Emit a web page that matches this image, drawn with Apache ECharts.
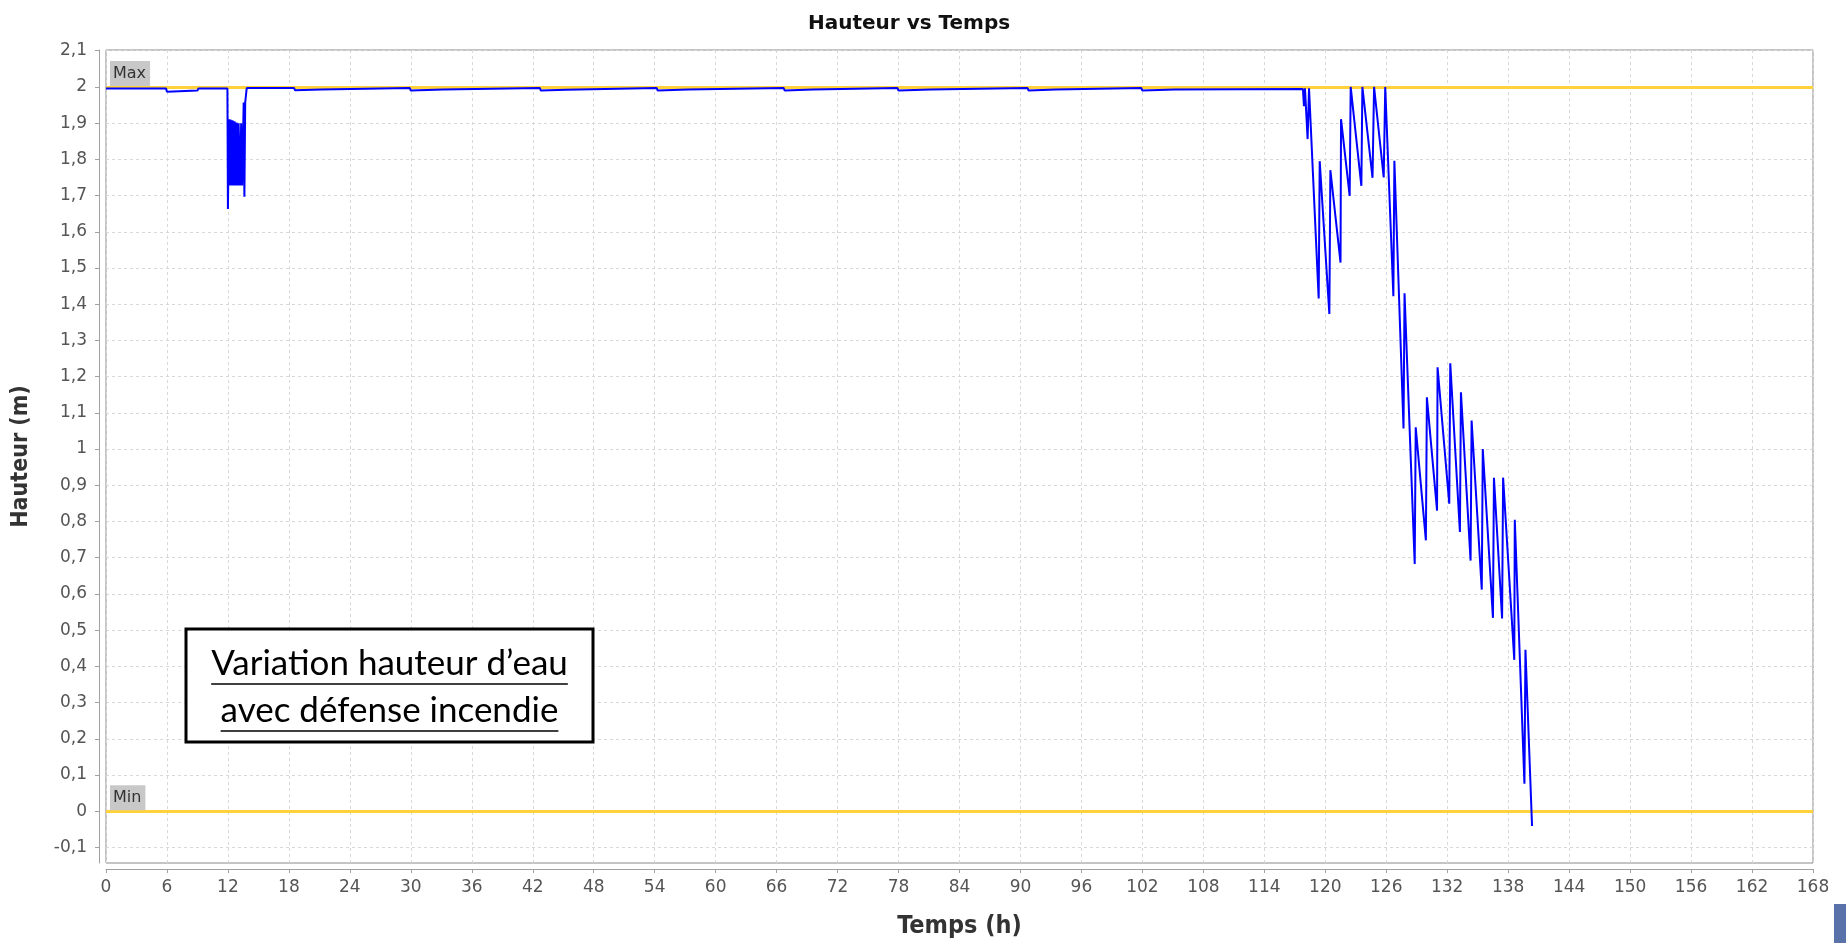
<!DOCTYPE html>
<html><head><meta charset="utf-8">
<script src="https://cdn.jsdelivr.net/npm/echarts@6/dist/echarts.min.js"></script>
<style>html,body{margin:0;padding:0;background:#fff}#chart{width:1846px;height:943px}</style>
</head><body><div id="chart"></div>
<script>
// ---- data (time in hours, water height in m) ----
const time = [
  0, 5.9, 6.0, 9.0, 9.1, 11.95,
  12.0, 12.1, 12.2, 12.25, 12.4, 12.45, 12.6, 12.65, 12.8, 12.85, 13.0, 13.05, 13.2, 13.3, 13.4, 13.55, 13.62, 13.7, 13.85,
  18.5, 18.6, 21.2, 21.3,
  29.9, 30.0, 33.2, 33.3,
  42.7, 42.8, 45.3, 45.4,
  54.2, 54.3, 57.3, 57.4,
  66.7, 66.8, 69.6, 69.7,
  77.9, 78.0, 81.2, 81.3,
  90.7, 90.8, 93.5, 93.6,
  101.9, 102.0, 105.2, 105.3,
  117.8, 117.9, 118.0, 118.26, 118.4,
  119.35, 119.45, 120.4, 120.5, 121.5, 121.55, 122.4, 122.5, 123.55, 123.65, 124.65, 124.8, 125.75, 125.9,
  126.7, 126.8, 127.7, 127.8, 128.8, 128.9, 129.9, 130.0, 131.0, 131.05, 132.2, 132.3, 133.25, 133.35,
  134.3, 134.4, 135.4, 135.5, 136.5, 136.6, 137.4, 137.5, 138.6, 138.65, 139.6, 139.7, 140.35
];
const height = [
  1.996, 1.996, 1.987, 1.990, 1.996, 1.996,
  1.663, 1.911, 1.728, 1.910, 1.728, 1.908, 1.728, 1.905, 1.728, 1.902, 1.728, 1.900, 1.728, 1.900, 1.728, 1.957, 1.697, 1.957, 1.997,
  1.997, 1.991, 1.993, 1.997,
  1.997, 1.990, 1.993, 1.997,
  1.997, 1.990, 1.992, 1.997,
  1.997, 1.990, 1.993, 1.997,
  1.997, 1.990, 1.993, 1.997,
  1.997, 1.990, 1.993, 1.997,
  1.997, 1.990, 1.993, 1.997,
  1.997, 1.990, 1.993, 1.995,
  1.994, 1.947, 1.996, 1.856, 1.996,
  1.416, 1.795, 1.373, 1.770, 1.515, 1.911, 1.699, 2.000, 1.727, 2.000, 1.749, 2.000, 1.750, 2.000,
  1.422, 1.796, 1.057, 1.430, 0.683, 1.060, 0.748, 1.143, 0.830, 1.226, 0.849, 1.237, 0.771, 1.157,
  0.692, 1.079, 0.612, 1.000, 0.534, 0.921, 0.532, 0.921, 0.418, 0.805, 0.076, 0.446, -0.041
];
const yTicks = [-0.1, 0, 0.1, 0.2, 0.3, 0.4, 0.5, 0.6, 0.7, 0.8, 0.9, 1, 1.1, 1.2, 1.3, 1.4, 1.5, 1.6, 1.7, 1.8, 1.9, 2, 2.1];
const xTicks = [0, 6, 12, 18, 24, 30, 36, 42, 48, 54, 60, 66, 72, 78, 84, 90, 96, 102, 108, 114, 120, 126, 132, 138, 144, 150, 156, 162, 168];
const levelNames = ['Max', 'Min'];
const levelValues = [2, 0];
const titleText = 'Hauteur vs Temps';
const xName = 'Temps (h)';
const yName = 'Hauteur (m)';
const noteLines = ['Variation hauteur d\u2019eau', 'avec d\u00e9fense incendie'];

const seriesData = time.map((t, i) => [t, height[i]]);
const fmt = v => (Math.round(v * 10) / 10).toString().replace('.', ',');

const mctx = document.createElement('canvas').getContext('2d');
const noteFont = '35px Lato';
mctx.font = noteFont;
const noteW = noteLines.map(s => mctx.measureText(s).width);
const titleFont = 'bold 20px "DejaVu Sans"';
mctx.font = titleFont;
const titleW = mctx.measureText(titleText).width;

const boxX = 186, boxY = 629, boxW = 407, boxH = 113;
const cx = boxX + boxW / 2;
const lineY = [664, 711];

const chart = echarts.init(document.getElementById('chart'), null, { renderer: 'canvas' });
chart.setOption({
  backgroundColor: '#ffffff',
  animation: false,
  title: {
    text: titleText, left: Math.round(904 - titleW / 2), top: 9,
    textStyle: { fontFamily: 'DejaVu Sans', fontWeight: 'bold', fontSize: 20, color: '#111' }
  },
  grid: {
    left: 106, right: 33, top: 50, bottom: 80, outerBoundsMode: 'none', containLabel: false,
    show: true, borderColor: '#8a8a8a', borderWidth: 1, backgroundColor: '#ffffff'
  },
  xAxis: {
    type: 'value', min: 0, max: 168, interval: 6, offset: 6,
    name: xName, nameLocation: 'middle', nameGap: 45, nameMoveOverlap: false,
    nameTextStyle: { fontFamily: 'DejaVu Sans Condensed', fontWeight: 'bold', fontSize: 25, color: '#333' },
    axisLine: { show: true, onZero: false, lineStyle: { color: '#a0a0a0', width: 1 } },
    axisTick: { show: true, length: 4, lineStyle: { color: '#a0a0a0' } },
    axisLabel: { margin: 10, fontFamily: 'DejaVu Sans', fontSize: 17, color: '#555',
      customValues: xTicks },
    splitLine: { show: true, lineStyle: { color: '#d8d8d8', type: [3, 3], width: 1 } }
  },
  yAxis: {
    type: 'value', min: -0.143, max: 2.102, offset: 7,
    name: yName, nameLocation: 'middle', nameGap: 66, nameMoveOverlap: false,
    nameTextStyle: { fontFamily: 'DejaVu Sans Condensed', fontWeight: 'bold', fontSize: 23, color: '#333' },
    axisLine: { show: true, onZero: false, lineStyle: { color: '#a0a0a0', width: 1 } },
    axisTick: { show: true, length: 4, lineStyle: { color: '#a0a0a0' }, customValues: yTicks },
    axisLabel: { margin: 12, fontFamily: 'DejaVu Sans', fontSize: 17, color: '#555',
      customValues: yTicks, formatter: v => fmt(v) },
    splitLine: { show: true, lineStyle: { color: '#d8d8d8', type: [3, 3], width: 1 } }
  },
  series: [{
    type: 'line', data: seriesData, showSymbol: false, symbol: 'none',
    lineStyle: { color: '#0000ff', width: 2 }, z: 3,
    markLine: {
      silent: true, symbol: 'none', z: 2,
      lineStyle: { color: '#ffd23c', width: 3, type: 'solid' },
      label: {
        show: true, position: 'insideStartTop', distance: [4, 1], formatter: '{b}',
        backgroundColor: '#c8c8c8', color: '#333', fontFamily: 'DejaVu Sans', fontSize: 16,
        padding: [5, 4, 4, 3]
      },
      data: levelValues.map((v, i) => ({ yAxis: v, name: levelNames[i] }))
    }
  }],
  graphic: [
    { type: 'rect', z: 100, shape: { x: boxX, y: boxY, width: boxW, height: boxH },
      style: { fill: '#ffffff', stroke: '#000000', lineWidth: 3 } },
    ...noteLines.map((s, i) => ({
      type: 'text', z: 101, x: cx, y: lineY[i],
      style: { text: s, font: noteFont, fill: '#000', align: 'center', verticalAlign: 'middle' }
    })),
    ...noteLines.map((s, i) => ({
      type: 'line', z: 101,
      shape: { x1: cx - noteW[i] / 2, y1: lineY[i] + 20, x2: cx + noteW[i] / 2, y2: lineY[i] + 20 },
      style: { stroke: '#000', lineWidth: 1.5 }
    })),
    { type: 'rect', z: 100, shape: { x: 1834, y: 904, width: 12, height: 39 },
      style: { fill: '#5a72aa' } }
  ]
});
</script>
</body></html>
